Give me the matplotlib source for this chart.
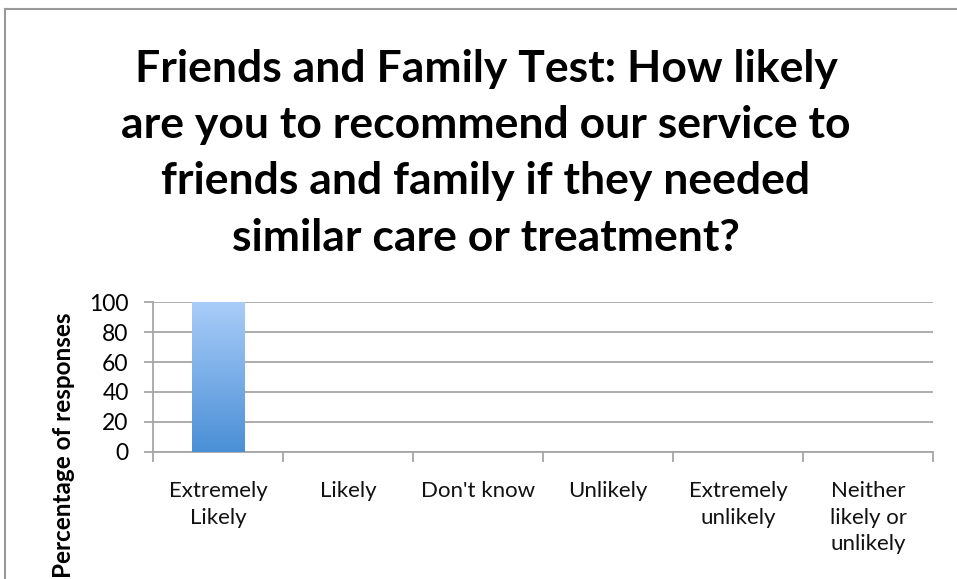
import matplotlib
matplotlib.use("Agg")
import matplotlib.pyplot as plt
import numpy as np
from matplotlib.lines import Line2D
from matplotlib.colors import LinearSegmentedColormap

categories = ["Extremely\nLikely", "Likely", "Don't know", "Unlikely",
              "Extremely\nunlikely", "Neither\nlikely or\nunlikely"]
values = [100, 0, 0, 0, 0, 0]
yticks = [0, 20, 40, 60, 80, 100]
title = ("Friends and Family Test: How likely\nare you to recommend our service to\n"
         "friends and family if they needed\nsimilar care or treatment?")
ylabel = "Percentage of responses"

W, H = 957, 579
fig = plt.figure(figsize=(W / 100, H / 100), dpi=100)
fig.patch.set_facecolor("white")
plt.rcParams['font.family'] = ['Lato', 'DejaVu Sans']

# axes: x 153..933, y 302..452 (px)
ax = fig.add_axes([153 / W, 1 - 452 / H, (933 - 153) / W, (452 - 302) / H])
ax.set_facecolor("none")

grid_c = "#a6a6a6"
for s in ["top", "right"]:
    ax.spines[s].set_visible(False)
ax.spines["left"].set_color(grid_c)
ax.spines["bottom"].set_color(grid_c)
ax.spines["left"].set_linewidth(1.3)
ax.spines["bottom"].set_linewidth(1.3)

ax.set_yticks(yticks)
ax.set_yticklabels([str(v) for v in yticks], fontsize=16.5)
ax.yaxis.grid(True, color=grid_c, linewidth=1.3)
ax.set_axisbelow(True)
ax.tick_params(axis="y", length=6.5, width=1.3, color=grid_c, pad=11)

# category ticks at boundaries
ax.set_xticks(np.arange(len(categories) + 1) - 0.5)
ax.set_xticklabels([])
ax.tick_params(axis="x", which="major", length=7, width=1.3, color=grid_c)
ax.set_xticks(np.arange(len(categories)), minor=True)
ax.set_xticklabels(categories, minor=True, fontsize=16, linespacing=1.4,
                   va="top", ha="center", color="#111111")
ax.tick_params(axis="x", which="minor", length=0, pad=21)

bw = 53 / 130
bars = ax.bar(np.arange(len(categories)), values, width=bw, color="none",
              edgecolor="none", zorder=3)
grad = np.linspace(0, 1, 256).reshape(-1, 1)
cmap = LinearSegmentedColormap.from_list("g", ["#4a8fd6", "#a9cdf9"])
for b in bars:
    h = b.get_height()
    if h <= 0:
        continue
    x0 = b.get_x()
    im = ax.imshow(grad, extent=(x0, x0 + b.get_width(), 0, h), origin="lower",
                   cmap=cmap, aspect="auto", zorder=3)
    im.set_clip_path(b)
ax.set_xlim(-0.5, len(categories) - 0.5)
ax.set_ylim(0, 100)

fig.text(486 / W, 1 - 49 / H, title, ha="center", va="top", fontsize=32,
         fontweight="bold", linespacing=1.49)
fig.text(64 / W, 1 - 312 / H, ylabel, rotation=90, ha="center", va="top",
         fontsize=17.5, fontweight="bold")

# chart frame
fc = "#999999"
fig.add_artist(Line2D([4.5 / W, 4.5 / W], [0, 1 - 8.5 / H], color=fc, lw=1.5,
                      transform=fig.transFigure))
fig.add_artist(Line2D([4.5 / W, 1], [1 - 8.5 / H, 1 - 8.5 / H], color=fc, lw=1.5,
                      transform=fig.transFigure))

fig.savefig("out.png", dpi=100, facecolor="white")
